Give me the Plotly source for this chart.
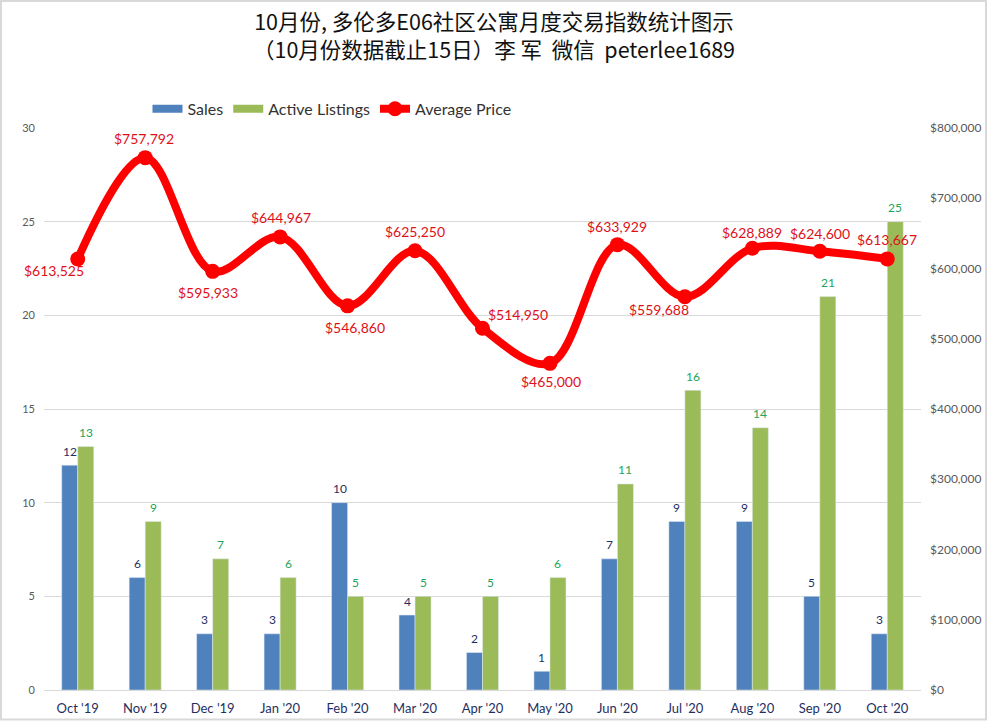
import plotly.graph_objects as go

months = ["Oct '19", "Nov '19", "Dec '19", "Jan '20", "Feb '20", "Mar '20", "Apr '20",
          "May '20", "Jun '20", "Jul '20", "Aug '20", "Sep '20", "Oct '20"]
sales = [12, 6, 3, 3, 10, 4, 2, 1, 7, 9, 9, 5, 3]
listings = [13, 9, 7, 6, 5, 5, 5, 6, 11, 16, 14, 21, 25]
price = [613525, 757792, 595933, 644967, 546860, 625250, 514950,
         465000, 633929, 559688, 628889, 624600, 613667]
# label offsets in px, placed by hand like the original
label_dx = [-24, -1, -5, 1, 7, 0, 35, 1, 0, -26, 0, 0, 0]
label_dy = [-11, 19, -21, 19, -22, 19, 14, -18, 18, -13, 16, 18, 19]

title_text = "10月份, 多伦多E06社区公寓月度交易指数统计图示<br>（10月份数据截止15日）李 军  微信  peterlee1689"

fig = go.Figure()
# bars hide their own legend key, plotly only draws small squares for those
fig.add_trace(go.Bar(x=months, y=sales, name="Sales", marker_color="#4F81BD", showlegend=False,
                     legendgroup="sales"))
fig.add_trace(go.Bar(x=months, y=listings, name="Active Listings", marker_color="#9BBB59",
                     showlegend=False, legendgroup="listings"))
fig.add_trace(go.Scatter(x=months[:1], y=[None], name="Sales", mode="lines", legendgroup="sales",
                         line=dict(color="#4F81BD", width=8)))
fig.add_trace(go.Scatter(x=months[:1], y=[None], name="Active Listings", mode="lines",
                         legendgroup="listings", line=dict(color="#9BBB59", width=8)))
fig.add_trace(go.Scatter(x=months, y=price, name="Average Price", yaxis="y2", mode="lines+markers",
                         line=dict(color="#FF0000", width=8, shape="spline", smoothing=1),
                         marker=dict(color="#FF0000", size=15), cliponaxis=False))

for m, s, a in zip(months, sales, listings):
    fig.add_annotation(x=m, y=s, text=str(s), showarrow=False, xshift=-8, yshift=14,
                       font=dict(color="#1F2F5F", size=12, family="Lato"))
    fig.add_annotation(x=m, y=a, text=str(a), showarrow=False, xshift=8, yshift=14,
                       font=dict(color="#22A45A", size=12, family="Lato"))

for m, p, dx, dy in zip(months, price, label_dx, label_dy):
    fig.add_annotation(x=m, y=p, yref="y2", text=f"${p:,}", showarrow=False, xshift=dx, yshift=dy,
                       font=dict(color="#E0101A", size=14, family="Lato"))

fig.update_layout(
    width=988, height=721,
    margin=dict(l=44, r=67, t=128, b=31),
    paper_bgcolor="white", plot_bgcolor="white",
    font=dict(family="Lato", size=12),
    title=dict(text=title_text, x=0.5, xanchor="center", y=0.958, yanchor="top",
               font=dict(family="Noto Sans CJK SC", size=21.5, color="#111111")),
    barmode="group", bargap=0.525, bargroupgap=0,
    showlegend=True,
    legend=dict(orientation="h", x=0.118, xanchor="left", y=1.034, yanchor="middle",
                font=dict(size=16, color="#333333"), bgcolor="rgba(0,0,0,0)",
                itemwidth=30, traceorder="normal"),
    xaxis=dict(range=[-0.5, 12.5], showgrid=False, showline=True, linecolor="#D9D9D9", ticks="",
               tickfont=dict(size=13, color="#1F2F5F"), tickangle=0, ticklabelstandoff=6,
               automargin=False),
    yaxis=dict(range=[0, 30], dtick=5, gridcolor="#D9D9D9", zeroline=False, ticks="",
               tickfont=dict(size=11, color="#595959"), ticklabelstandoff=8, automargin=False),
    yaxis2=dict(range=[0, 800000], dtick=100000, overlaying="y", side="right", showgrid=False,
                zeroline=False, tickprefix="$", tickformat=",", ticks="",
                tickfont=dict(size=12, color="#595959"), ticklabelstandoff=8, automargin=False),
    shapes=[dict(type="rect", xref="paper", yref="paper", x0=-0.049, x1=1.0741, y0=-0.0525, y1=1.226,
                 line=dict(color="#D9D9D9", width=2), fillcolor="rgba(0,0,0,0)")],
)

fig.write_html("out.html", config=dict(displayModeBar=False, responsive=False),
               post_script="document.body.style.margin='0';")
